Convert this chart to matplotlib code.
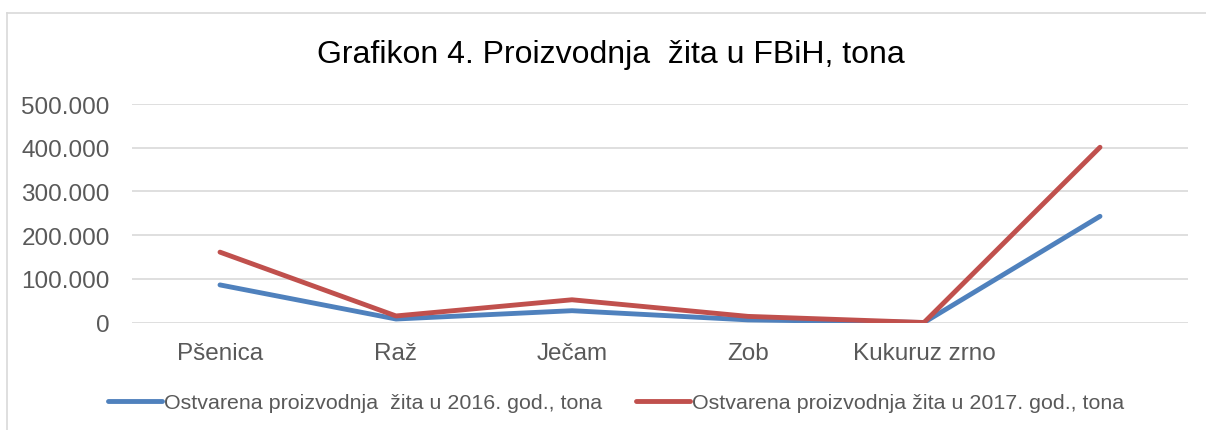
import matplotlib
matplotlib.use("Agg")
import matplotlib.pyplot as plt
from matplotlib.lines import Line2D
from matplotlib.ticker import FuncFormatter

categories = ["Pšenica", "Raž", "Ječam", "Zob", "Kukuruz zrno", ""]
prod_2016 = [86000, 8000, 27000, 6000, 0, 243000]
prod_2017 = [161000, 15000, 52000, 14000, 0, 401000]
label_2016 = "Ostvarena proizvodnja  žita u 2016. god., tona"
label_2017 = "Ostvarena proizvodnja žita u 2017. god., tona"

plt.rcParams['font.family'] = ['Liberation Sans', 'DejaVu Sans']

fig = plt.figure(figsize=(12.06, 4.31), dpi=100)
ax = fig.add_axes([132 / 1206, 1 - 323.5 / 431, (1188 - 132) / 1206, (323.5 - 105) / 431])

# chart frame (only top and left visible)
fig.add_artist(Line2D([7 / 1206, 1.0], [1 - 14 / 431] * 2, color="#d9d9d9", lw=1.2, transform=fig.transFigure))
fig.add_artist(Line2D([7 / 1206] * 2, [0, 1 - 14 / 431], color="#d9d9d9", lw=1.2, transform=fig.transFigure))

x = list(range(len(categories)))
ax.plot(x, prod_2016, color="#4f81bd", lw=3.5, solid_capstyle="round", solid_joinstyle="round", label=label_2016, zorder=3)
ax.plot(x, prod_2017, color="#c0504d", lw=3.5, solid_capstyle="round", solid_joinstyle="round", label=label_2017, zorder=3)

ax.set_xlim(-0.5, len(categories) - 0.5)
ax.set_ylim(0, 500000)
ax.set_yticks(range(0, 500001, 100000))
ax.yaxis.set_major_formatter(FuncFormatter(lambda v, p: f"{int(v):,}".replace(",", ".")))
ax.set_xticks(x)
ax.set_xticklabels(categories)
ax.grid(axis="y", color="#d9d9d9", lw=1.2)
ax.set_axisbelow(True)
for s in ax.spines.values():
    s.set_visible(False)
ax.tick_params(axis="both", length=0, colors="#595959", labelsize=17.5)
ax.tick_params(axis="x", pad=14)
ax.tick_params(axis="y", pad=16)

fig.text(611 / 1206, 1 - 55 / 431, "Grafikon 4. Proizvodnja  žita u FBiH, tona", ha="center", va="center",
         fontsize=23, color="#000000")

leg = fig.legend(loc="center", bbox_to_anchor=(616 / 1206, 1 - 404 / 431), ncol=2, frameon=False,
                 fontsize=15.4, handlelength=2.5, handletextpad=0.1, columnspacing=1.6)
for t in leg.get_texts():
    t.set_color("#595959")

fig.savefig("out.png", dpi=100)
